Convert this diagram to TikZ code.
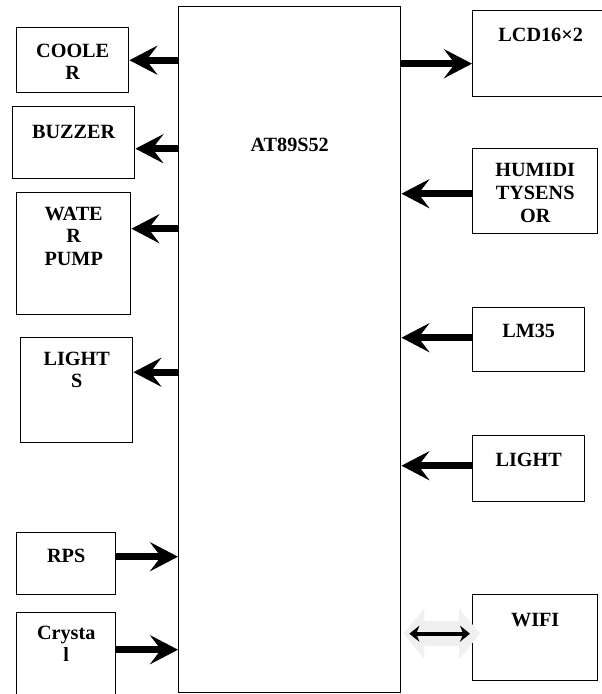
\documentclass[tikz,border=0pt]{standalone}
\usepackage{fontspec}
\setmainfont{Liberation Serif}
\usetikzlibrary{arrows.meta,calc}
\newdimen\unitpx \unitpx=0.02cm
% box text: [top gap]{width}{height}{lines}, all in px
\newcommand{\blktext}[4][16]{\parbox[c][#3\unitpx][t]{#2\unitpx}{\centering\vspace*{#1\unitpx}#4}}
\tikzset{
  blk/.style={draw, line width=0.8pt, inner sep=0pt, anchor=north west,
    font=\bfseries\fontsize{11.5}{13}\selectfont},
  bus/.style={line width=4pt, -{Stealth[length=5.6mm,width=5.8mm,inset=2.2mm]}},
}
\begin{document}
\begin{tikzpicture}[x=0.02cm,y=-0.02cm]
    \useasboundingbox (0,0) rectangle (602,694);
    \node [blk] (main) at (178,6) {\blktext[131]{222}{686}{AT89S52}};
    % outputs on the left
    \node [blk] (cooler) at (16,27) {\blktext{112}{65}{COOLE\\R}};
    \node [blk] (buzzer) at (12,106) {\blktext[19]{122}{72}{BUZZER}};
    \node [blk] (water) at (16,192) {\blktext[14]{114}{122}{WATE\\R\\PUMP}};
    \node [blk] (lights) at (20,337) {\blktext[14]{112}{105}{LIGHT\\S}};
    % supply and clock
    \node [blk] (rps) at (16,532) {\blktext{99}{62}{RPS}};
    \node [blk] (crystal) at (16,612) {\blktext[13]{99}{88}{Crysta\\l}};
    % right side
    \node [blk] (lcd) at (472,10) {\blktext[17]{136}{86}{LCD16×2}};
    \node [blk] (humid) at (472,148) {\blktext[15]{125}{85}{HUMIDI\\TYSENS\\OR}};
    \node [blk] (lm35) at (472,307) {\blktext{112}{64}{LM35}};
    \node [blk] (light) at (472,435) {\blktext[17]{112}{66}{LIGHT}};
    \node [blk] (wifi) at (472,594) {\blktext[19]{125}{86}{WIFI}};
    \foreach \n/\dy in {cooler/0,buzzer/6,water/-25,lights/-18}{
        \coordinate (t) at ($(\n.east)+(0,\dy)$);
        \draw [bus] (main.west |- t) -- (t);
    }
    \foreach \n/\dy in {rps/-7,crystal/-7}{
        \coordinate (t) at ($(\n.east)+(0,\dy)$);
        \draw [bus] (t) -- (main.west |- t);
    }
    \coordinate (t) at ($(lcd.west)+(0,10)$);
    \draw [bus] (main.east |- t) -- (t);
    \foreach \n/\dy in {humid/2.5,lm35/-2,light/-3}{
        \coordinate (t) at ($(\n.west)+(0,\dy)$);
        \draw [bus] (t) -- (main.east |- t);
    }
    \coordinate (wl) at ($(wifi.west)+(0,-4)$);
    \draw [line width=0.5cm, gray!12, yshift=-0.1cm, shorten <=0.04cm, shorten >=-0.16cm,
        {Triangle[length=0.42cm,width=1cm]}-{Triangle[length=0.42cm,width=1cm]}] (main.east |- wl) -- (wl);
    \draw [line width=2.2pt, shorten <=0.16cm, shorten >=0.04cm,
        {Stealth[length=2mm,width=3.2mm]}-{Stealth[length=2mm,width=3.2mm]}] (main.east |- wl) -- (wl);
\end{tikzpicture}
\end{document}
